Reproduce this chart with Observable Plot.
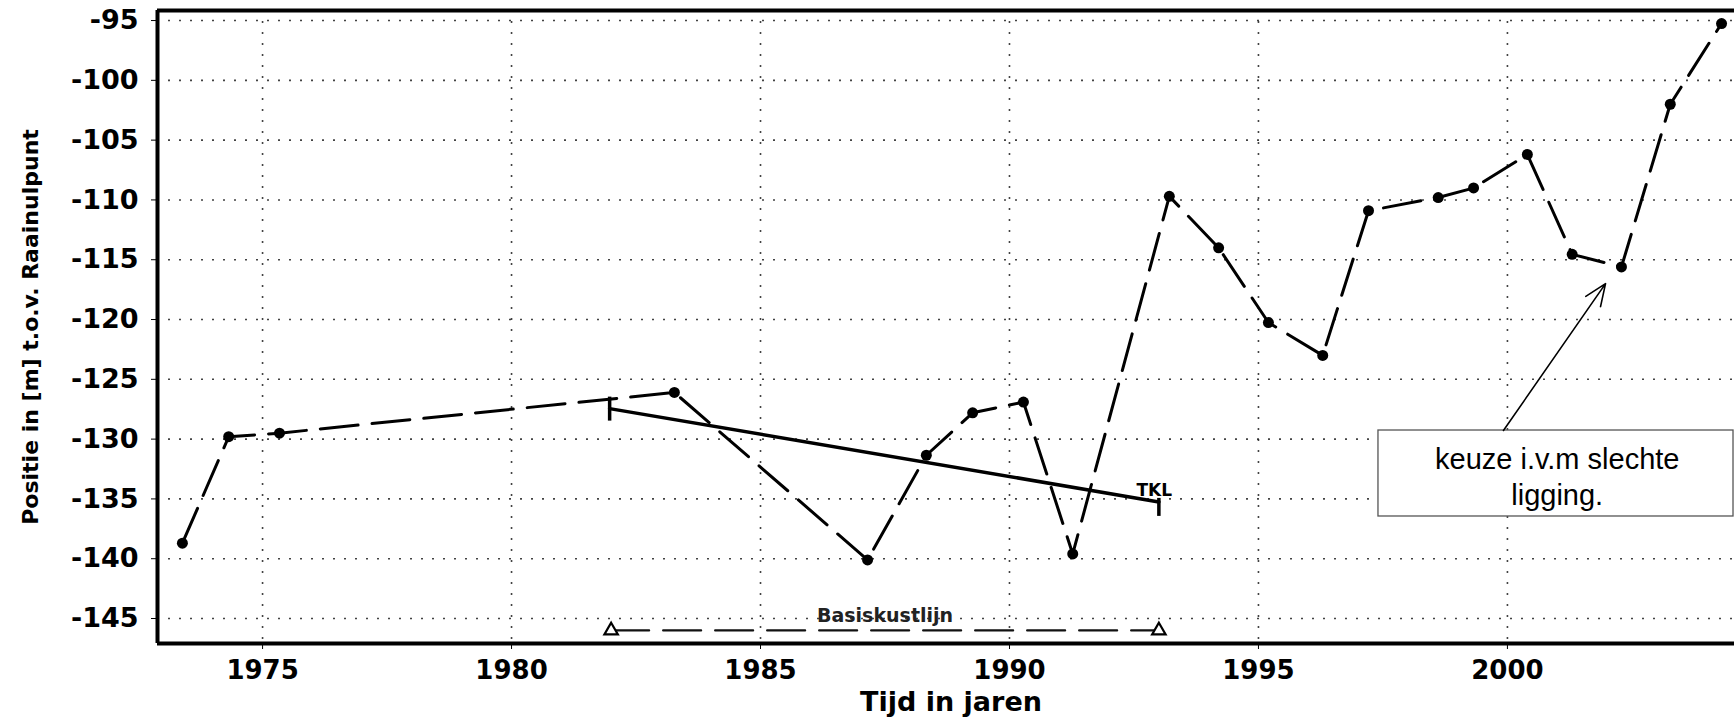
<!DOCTYPE html>
<html><head><meta charset="utf-8">
<script src="https://cdn.jsdelivr.net/npm/d3@7"></script>
<script src="https://cdn.jsdelivr.net/npm/@observablehq/plot@0.6"></script>
<style>
html,body{margin:0;padding:0;background:#fff;}
#chart svg{display:block;}
</style>
</head><body><div id="chart"></div>
<script>
// measured series (Positie in m t.o.v. Raainulpunt)
const years = [1973.39, 1974.32, 1975.34, 1983.27, 1987.15, 1988.33, 1989.26, 1990.28, 1991.27, 1993.21, 1994.2, 1995.2, 1996.29, 1997.21, 1998.61, 1999.32, 2000.4, 2001.3, 2002.29, 2003.27, 2004.3];
const positions = [-138.7, -129.8, -129.5, -126.1, -140.1, -131.35, -127.8, -126.9, -139.6, -109.7, -114.0, -120.25, -123.0, -110.9, -109.8, -109.0, -106.2, -114.55, -115.6, -102.0, -95.25];

// TKL (trendlijn) and Basiskustlijn
const tklYears = [1981.97, 1993.0];
const tklPositions = [-127.45, -135.25];
const tklLabel = ["TKL"];
const tklLabelX = [1992.55];
const tklLabelY = [-134.72];

const basisYears = [1982.0, 1993.0];
const basisPositions = [-146.0, -146.0];
const basisLabel = ["Basiskustlijn"];
const basisLabelX = [1987.5];
const basisLabelY = [-145.33];

// axes
const xTicks = [1975, 1980, 1985, 1990, 1995, 2000];
const yTicks = [-95, -100, -105, -110, -115, -120, -125, -130, -135, -140, -145];
const xDomain = [1972.89, 2004.56];
const yDomain = [-147.09, -94.16];
const xTitle = "Tijd in jaren";
const yTitle = "Positie in [m] t.o.v. Raainulpunt";

// annotation
const noteLines = ["keuze i.v.m slechte", "ligging."];
const noteLineX = [2001.0, 2001.0];
const noteLineY = [-132.46, -135.55];
const noteBoxX = [1997.41, 2004.54];
const noteBoxY = [-129.28, -136.47];
const noteArrowFrom = [1999.92, -129.28];
const noteArrowTo = [2001.97, -117.0];

const series = years.map((x, i) => ({x, y: positions[i]}));
const tkl = tklYears.map((x, i) => ({x, y: tklPositions[i]}));
const basis = basisYears.map((x, i) => ({x, y: basisPositions[i]}));
const notes = noteLines.map((t, i) => ({t, x: noteLineX[i], y: noteLineY[i]}));

const vbar = {draw(ctx, size) { const r = Math.sqrt(size / Math.PI); ctx.moveTo(0, -r); ctx.lineTo(0, r); }};

const chart = Plot.plot({
  width: 1734,
  height: 717,
  marginLeft: 157,
  marginRight: 0,
  marginTop: 10,
  marginBottom: 74,
  style: {fontFamily: "DejaVu Sans", background: "#fff", color: "#000"},
  x: {domain: xDomain},
  y: {domain: yDomain},
  marks: [
    Plot.gridX(xTicks, {stroke: "#222", strokeOpacity: 0.85, strokeWidth: 1.6, strokeDasharray: "2,9"}),
    Plot.gridY(yTicks, {stroke: "#222", strokeOpacity: 0.85, strokeWidth: 1.6, strokeDasharray: "2,9"}),
    Plot.axisX(xTicks, {tickSize: 6, tickPadding: 11, fontSize: 26, fontWeight: "bold", label: null, tickFormat: d => String(d), stroke: "#000"}),
    Plot.axisY(yTicks, {tickSize: 6, tickPadding: 13, fontSize: 27, fontWeight: "bold", label: null, tickFormat: d => String(d), stroke: "#000"}),
    // annotation box + arrow
    Plot.rect([0], {x1: () => noteBoxX[0], x2: () => noteBoxX[1], y1: () => noteBoxY[0], y2: () => noteBoxY[1], fill: "#fff", stroke: "#555", strokeWidth: 1.3}),
    Plot.arrow([0], {x1: () => noteArrowFrom[0], y1: () => noteArrowFrom[1], x2: () => noteArrowTo[0], y2: () => noteArrowTo[1], bend: 0, headLength: 22, headAngle: 45, stroke: "#000", strokeWidth: 1.6}),
    Plot.text(notes, {x: "x", y: "y", text: "t", fontFamily: "Liberation Sans", fontSize: 29, lineAnchor: "bottom", fill: "#000"}),
    // Basiskustlijn
    Plot.line(basis, {x: "x", y: "y", stroke: "#111", strokeWidth: 2.2, strokeDasharray: "38,14"}),
    Plot.dot(basis, {x: "x", y: "y", symbol: "triangle", r: 5, stroke: "#000", strokeWidth: 2.2, fill: "#fff"}),
    Plot.text(basisLabel, {x: () => basisLabelX[0], y: () => basisLabelY[0], text: d => d, fontSize: 19, fontWeight: "bold", lineAnchor: "bottom", fill: "#222"}),
    // TKL
    Plot.line(tkl, {x: "x", y: "y", stroke: "#000", strokeWidth: 3.5}),
    Plot.dot([tkl[0]], {x: "x", y: "y", symbol: vbar, r: 12, stroke: "#000", strokeWidth: 3.5}),
    Plot.dot([tkl[1]], {x: "x", y: "y", symbol: vbar, r: 9, stroke: "#000", strokeWidth: 3.5, dy: 5}),
    Plot.text(tklLabel, {x: () => tklLabelX[0], y: () => tklLabelY[0], text: d => d, fontSize: 17, fontWeight: "bold", textAnchor: "start", lineAnchor: "bottom", fill: "#000"}),
    // measured series
    Plot.line(series, {x: "x", y: "y", stroke: "#000", strokeWidth: 3, strokeDasharray: "38,14"}),
    Plot.dot(series, {x: "x", y: "y", r: 5.5, fill: "#000"}),
    // frame
    Plot.ruleX([xDomain[0]], {stroke: "#000", strokeWidth: 4}),
    Plot.ruleY([yDomain[0]], {stroke: "#000", strokeWidth: 4}),
    Plot.ruleY([yDomain[1]], {stroke: "#000", strokeWidth: 4}),
    // titles
    Plot.text([yTitle], {frameAnchor: "left", dx: -127, rotate: -90, text: d => d, fontSize: 22, fontWeight: "bold", textAnchor: "middle", lineAnchor: "middle", fill: "#000"}),
    Plot.text([xTitle], {frameAnchor: "bottom", dx: 5, dy: 67, text: d => d, fontSize: 27, fontWeight: "bold", textAnchor: "middle", lineAnchor: "bottom", fill: "#000"})
  ]
});
document.getElementById("chart").appendChild(chart);
</script>
</body></html>
